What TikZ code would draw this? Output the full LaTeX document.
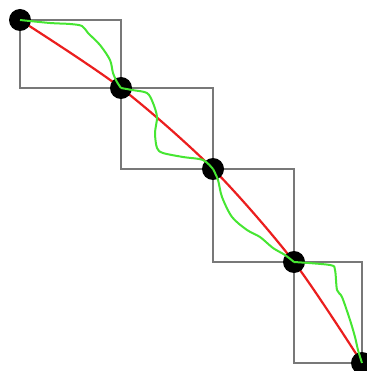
\documentclass[tikz,border=0pt]{standalone}
\begin{document}
\begin{tikzpicture}[x=1pt,y=-1pt,
  boxline/.style={draw={rgb,255:red,120;green,120;blue,120},line width=1.2pt},
  redline/.style={draw={rgb,255:red,235;green,30;blue,30},line width=2.2pt},
  greenline/.style={draw={rgb,255:red,70;green,230;blue,50},line width=2pt},
  dot/.style={circle,fill=black,minimum size=22pt,inner sep=0pt}]
\useasboundingbox (0,0) rectangle (366,371);
\fill[white] (0,0) rectangle (366,371);
\coordinate (b0) at (20,20);
\coordinate (b1) at (121,88);
\coordinate (b2) at (213,169);
\coordinate (b3) at (294,262);
\coordinate (b4) at (362,363);
\draw[boxline] (b0) rectangle (b1);
\draw[boxline] (b1) rectangle (b2);
\draw[boxline] (b2) rectangle (b3);
\draw[boxline] (b3) rectangle (b4);
\draw[redline] plot[smooth,tension=0.5] coordinates {(20,20) (121,88) (213,169) (294,262) (362,363)};
\node[dot] (d0) at (b0) {};
\node[dot] (d1) at (b1) {};
\node[dot] (d2) at (b2) {};
\node[dot] (d3) at (b3) {};
\node[dot] (d4) at (b4) {};
\draw[greenline] plot[smooth,tension=0.5] coordinates {(20,20) (50,23) (70,24) (82,26) (88,33) (100,45) (110,60) (113,73) (117,82) (121,88)};
\draw[greenline] plot[smooth,tension=0.5] coordinates {(121,88) (132,90) (147,93) (153,103) (157,117) (155,133) (157,148) (163,153) (183,157) (203,160) (213,169)};
\draw[greenline] plot[smooth,tension=0.5] coordinates {(213,169) (218,180) (222,197) (232,217) (247,230) (260,237) (273,248) (285,255) (294,262)};
\draw[greenline] plot[smooth,tension=0.5] coordinates {(294,262) (330,265) (335,270) (337,290) (342,297) (350,320) (355,337) (358,350) (362,363)};
\end{tikzpicture}
\end{document}
